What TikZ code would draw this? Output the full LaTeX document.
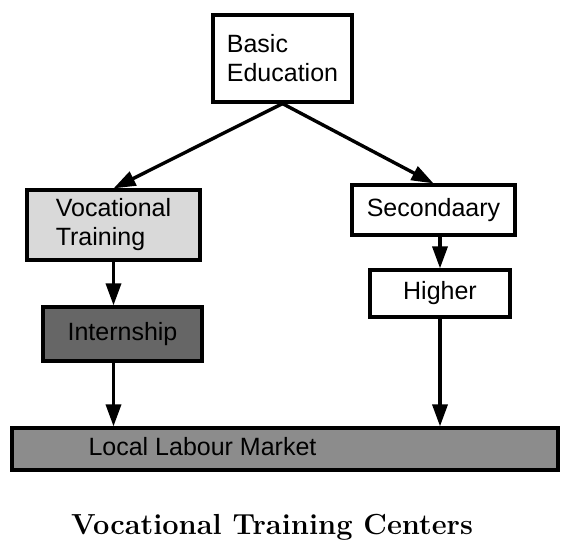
\documentclass[tikz,border=0pt]{standalone}
\usepackage{fontspec}
\usepackage{tikz}
\usetikzlibrary{arrows.meta}
\newfontfamily\boxfont{Liberation Sans}

\begin{document}
\begin{tikzpicture}[x=1pt, y=-1pt,
		box/.style={draw, line width=3.2pt, align=left, inner sep=0pt,
			font=\boxfont\fontsize{25}{29}\selectfont},
		arrow/.style={line width=3.4pt, -{Triangle[length=22pt, width=15pt]}}]
			\useasboundingbox (0,0) rectangle (561,555);
			\node [box, minimum width=139pt, minimum height=87pt] (basic) at (282.5,58.5) {Basic\\Education};
			\node [box, fill=black!15, minimum width=173pt, minimum height=70pt] (voc) at (113.5,225) {Vocational\\Training};
			\node [box, minimum width=163pt, minimum height=50pt] (sec) at (433.5,210) {Secondaary};
			\node [box, minimum width=140pt, minimum height=47pt] (higher) at (440,293.5) {Higher};
			\node [box, fill=black!60, minimum width=159pt, minimum height=54pt] (intern) at (122.5,334) {Internship};
			\node [box, fill=black!45, minimum width=546pt, minimum height=42pt] (market) at (285,449) {};
			\node [font=\boxfont\fontsize{25}{29}\selectfont, anchor=west] (mtext) at (85,447) {Local Labour Market};
			\node [font=\bfseries\fontsize{29}{34}\selectfont] (title) at (272,527) {Vocational Training Centers};
			\draw [arrow] (basic.south) -- (voc.north);
			\draw [arrow] (basic.south) -- (sec.north);
			\draw [arrow] (higher.north |- sec.south) -- (higher.north);
			\draw [arrow] (voc.south) -- (voc.south |- intern.north);
			\draw [arrow] (voc.south |- intern.south) -- (voc.south |- market.north);
			\draw [arrow] (higher.south) -- (higher.south |- market.north);
		\end{tikzpicture}
\end{document}
